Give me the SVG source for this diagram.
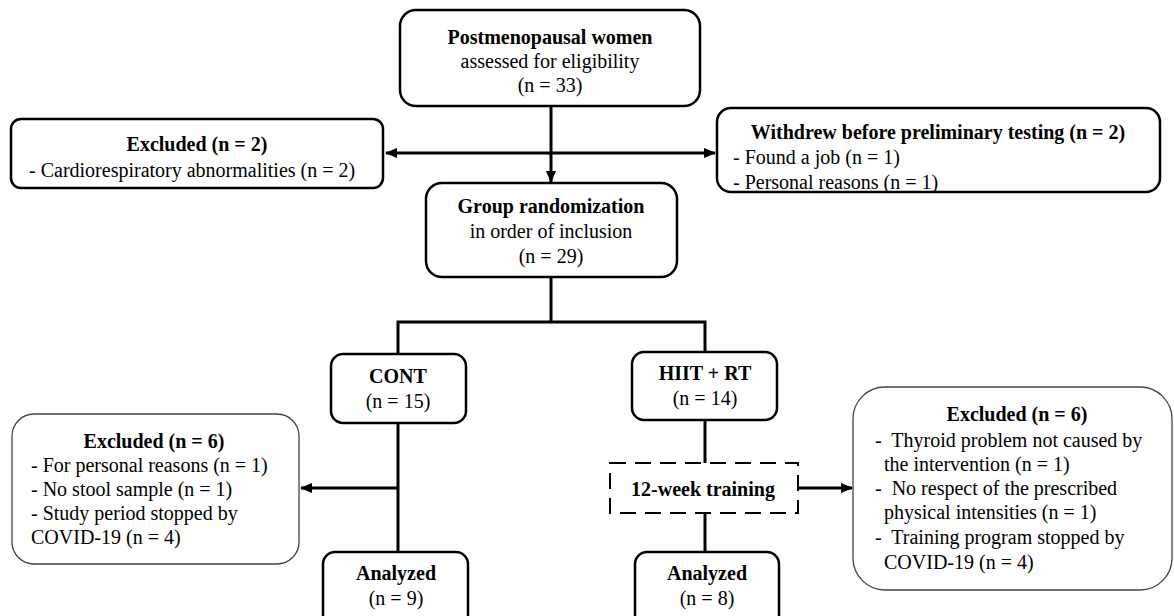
<svg xmlns="http://www.w3.org/2000/svg" width="1174" height="616" viewBox="0 0 1174 616">
<style>
.box{fill:#fff;stroke:#000;stroke-width:2.5}
.thin{fill:#fff;stroke:#444;stroke-width:1.3}
.dash{fill:none;stroke:#000;stroke-width:2;stroke-dasharray:16 9}
.ln{fill:none;stroke:#000;stroke-width:3}
text{font-family:"Liberation Serif","Times New Roman",serif;font-size:20px;fill:#000}
.b{font-weight:bold}
.c{text-anchor:middle}
</style>
<defs>
<marker id="ah" markerUnits="userSpaceOnUse" markerWidth="12" markerHeight="10" refX="11" refY="5" orient="auto">
<path d="M0,0 L12,5 L0,10 Z" fill="#000"/>
</marker>
</defs>
<g id="connectors">
<line class="ln" x1="551" y1="106" x2="551" y2="182" marker-end="url(#ah)"/>
<line class="ln" x1="551" y1="153" x2="386" y2="153" marker-end="url(#ah)"/>
<line class="ln" x1="551" y1="153" x2="715" y2="153" marker-end="url(#ah)"/>
<polyline class="ln" points="551,277 551,322"/>
<polyline class="ln" points="398,354 398,322 705,322 705,352"/>
<line class="ln" x1="398" y1="423" x2="398" y2="552"/>
<line class="ln" x1="398" y1="488" x2="301" y2="488" marker-end="url(#ah)"/>
<line class="ln" x1="705" y1="420" x2="705" y2="463"/>
<line class="ln" x1="705" y1="513" x2="705" y2="552"/>
<line class="ln" x1="798" y1="488" x2="852" y2="488" marker-end="url(#ah)"/>
</g>
<g id="n-women">
<rect class="box" x="400" y="10" width="300" height="96" rx="16"/>
<text class="b c" x="550" y="44">Postmenopausal women</text>
<text class="c" x="550" y="68">assessed for eligibility</text>
<text class="c" x="550" y="92">(n = 33)</text>
</g>
<g id="n-excl2">
<rect class="box" x="11" y="119" width="372" height="69" rx="10"/>
<text class="b c" x="197" y="151">Excluded (n = 2)</text>
<text x="29" y="177">- Cardiorespiratory abnormalities (n = 2)</text>
</g>
<g id="n-withdrew">
<rect class="box" x="717" y="108" width="443" height="84" rx="14"/>
<text class="b c" x="938" y="139">Withdrew before preliminary testing (n = 2)</text>
<text x="733" y="164">- Found a job (n = 1)</text>
<text x="733" y="189">- Personal reasons (n = 1)</text>
</g>
<g id="n-random">
<rect class="box" x="426" y="183" width="251" height="94" rx="16"/>
<text class="b c" x="551" y="213">Group randomization</text>
<text class="c" x="551" y="238">in order of inclusion</text>
<text class="c" x="551" y="263">(n = 29)</text>
</g>
<g id="n-cont">
<rect class="box" x="331" y="354" width="135" height="69" rx="12"/>
<text class="b c" x="398" y="383">CONT</text>
<text class="c" x="398" y="408">(n = 15)</text>
</g>
<g id="n-hiit">
<rect class="box" x="632" y="352" width="145" height="68" rx="12"/>
<text class="b c" x="705" y="380">HIIT + RT</text>
<text class="c" x="705" y="405">(n = 14)</text>
</g>
<g id="n-exclcont">
<rect class="thin" x="12" y="414" width="287" height="150" rx="22"/>
<text class="b c" x="154" y="448">Excluded (n = 6)</text>
<text x="31" y="472">- For personal reasons (n = 1)</text>
<text x="31" y="496">- No stool sample (n = 1)</text>
<text x="31" y="520">- Study period stopped by</text>
<text x="31" y="544">COVID-19 (n = 4)</text>
</g>
<g id="n-training">
<rect class="dash" x="610" y="463" width="188" height="50"/>
<text class="b c" x="703" y="496">12-week training</text>
</g>
<g id="n-exclhiit">
<rect class="thin" x="853" y="387" width="319" height="203" rx="32"/>
<text class="b c" x="1017" y="421">Excluded (n = 6)</text>
<text x="875" y="447" style="white-space:pre">-  Thyroid problem not caused by</text>
<text x="884" y="471">the intervention (n = 1)</text>
<text x="875" y="495" style="white-space:pre">-  No respect of the prescribed</text>
<text x="884" y="519">physical intensities (n = 1)</text>
<text x="875" y="544" style="white-space:pre">-  Training program stopped by</text>
<text x="884" y="569">COVID-19 (n = 4)</text>
</g>
<g id="n-an1">
<rect class="box" x="323" y="552" width="145" height="80" rx="12"/>
<text class="b c" x="396" y="580">Analyzed</text>
<text class="c" x="396" y="605">(n = 9)</text>
</g>
<g id="n-an2">
<rect class="box" x="635" y="552" width="144" height="80" rx="12"/>
<text class="b c" x="707" y="580">Analyzed</text>
<text class="c" x="707" y="605">(n = 8)</text>
</g>
</svg>
